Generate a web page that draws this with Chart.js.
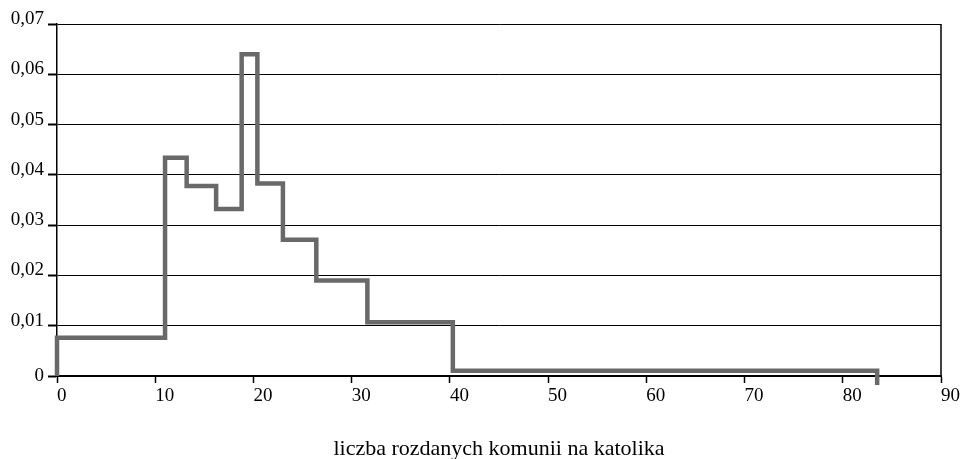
<!DOCTYPE html>
<html>
<head>
<meta charset="utf-8">
<script src="https://cdn.jsdelivr.net/npm/chart.js@4/dist/chart.umd.min.js"></script>
<style>
  html, body { margin: 0; padding: 0; background: #fff; }
  #wrap { width: 963px; height: 459px; }
</style>
</head>
<body>
<div id="wrap"><canvas id="histChart" width="963" height="459"></canvas></div>
<script>
// granice przedziałów i gęstości
const binEdges = [0, 11, 13.2, 16.2, 18.8, 20.4, 23, 26.4, 31.6, 40.3, 83.5];
const binDensity = [0.0076, 0.0434, 0.0378, 0.0332, 0.064, 0.0383, 0.0271, 0.019, 0.0107, 0.00105];
const endDrop = -0.0018;

const xTickLabels = ['0', '10', '20', '30', '40', '50', '60', '70', '80', '90'];
const yTickLabels = ['0', '0,01', '0,02', '0,03', '0,04', '0,05', '0,06', '0,07'];
const xTitle = 'liczba rozdanych komunii na katolika';

// obrys histogramu: pionowo, poziomo, pionowo...
function outlinePoints() {
    const pts = [{ x: binEdges[0], y: 0 }];
    for (let i = 0; i < binDensity.length; i++) {
        pts.push({ x: binEdges[i], y: binDensity[i] });
        pts.push({ x: binEdges[i + 1], y: binDensity[i] });
    }
    pts.push({ x: binEdges[binEdges.length - 1], y: endDrop });
    return pts;
}

const FONT = 'Liberation Serif';

const frameRight = {
    id: 'frameRight',
    afterDraw(chart) {
        const { ctx, chartArea } = chart;
        ctx.save();
        ctx.strokeStyle = '#000';
        ctx.lineWidth = 1.5;
        ctx.beginPath();
        ctx.moveTo(chartArea.right, chartArea.top);
        ctx.lineTo(chartArea.right, chartArea.bottom);
        ctx.stroke();
        ctx.restore();
    }
};

new Chart(document.getElementById('histChart').getContext('2d'), {
    type: 'line',
    data: {
        datasets: [{
            data: outlinePoints(),
            borderColor: '#696969',
            borderWidth: 4.5,
            pointRadius: 0,
            fill: false,
            tension: 0,
            clip: false,
            borderJoinStyle: 'miter'
        }]
    },
    options: {
        responsive: false,
        animation: false,
        layout: { padding: { top: 24, right: 22, left: 0, bottom: 0 } },
        plugins: { legend: { display: false }, tooltip: { enabled: false } },
        scales: {
            x: {
                type: 'linear',
                min: 0, max: 90,
                afterFit: s => { s.height = 83; },
                afterBuildTicks: s => { s.ticks = xTickLabels.map((_, i) => ({ value: i * 10 })); },
                ticks: {
                    color: '#000',
                    padding: 2,
                    align: 'start',
                    maxRotation: 0,
                    font: { family: FONT, size: 19 },
                    callback: (v, i) => xTickLabels[i]
                },
                grid: { display: true, drawOnChartArea: false, tickLength: 7, tickColor: '#000', tickWidth: 1.5 },
                border: { color: '#000', width: 2 },
                title: {
                    display: true,
                    text: xTitle,
                    color: '#000',
                    padding: 0,
                    font: { family: FONT, size: 22, lineHeight: '19px' }
                }
            },
            y: {
                min: 0, max: 0.07,
                afterFit: s => { s.width = 57; },
                afterBuildTicks: s => { s.ticks = yTickLabels.map((_, i) => ({ value: i * 0.01 })); },
                ticks: {
                    color: '#000',
                    padding: 4,
                    font: { family: FONT, size: 19, lineHeight: '10px' },
                    callback: (v, i) => i === 0 ? yTickLabels[i] : [yTickLabels[i], '']
                },
                grid: { color: '#000', lineWidth: 1, tickLength: 9, tickColor: '#000', tickWidth: 2 },
                border: { color: '#000', width: 1.5 }
            }
        }
    },
    plugins: [frameRight]
});
</script>
</body>
</html>
